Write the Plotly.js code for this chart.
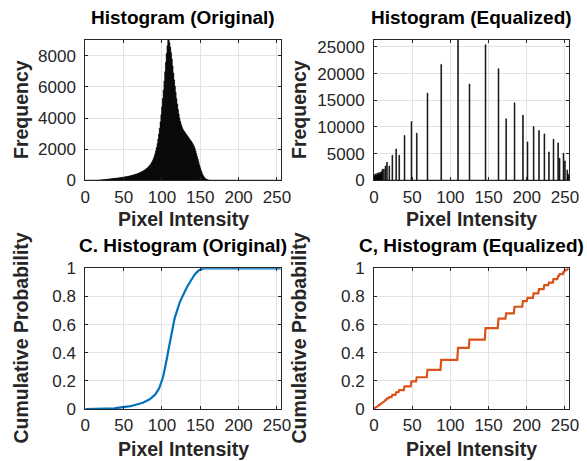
<!DOCTYPE html>
<html>
<head>
<meta charset="utf-8">
<script src="https://cdn.plot.ly/plotly-3.0.1.min.js"></script>
<style>html,body{margin:0;padding:0;background:#fff;}#chart{width:587px;height:461px;}</style>
</head>
<body>
<div id="chart"></div>
<script>
// Original image histogram, counts for intensities 0..255
const histOriginal = [
  0,0,0,0,0,1,1,1,2,2,
  3,4,5,6,8,10,12,14,17,20,
  24,28,32,36,41,46,52,58,64,70,
  76,82,88,94,100,106,112,118,124,130,
  136,142,148,154,160,167,174,181,189,197,
  205,214,223,232,242,252,262,273,284,296,
  308,321,334,348,362,377,393,410,428,447,
  467,488,510,534,559,586,615,646,680,717,
  757,800,847,898,955,1020,1095,1180,1280,1400,
  1540,1700,1890,2110,2360,2650,2980,3350,3760,4220,
  4720,5250,5800,6380,6980,7580,8150,
  8650,9000,9050,8850,8550,8200,
  7800,7350,6900,6450,6050,5650,5250,4900,4560,4260,4000,3780,3600,
  3450,3330,3230,3150,3080,3010,2940,2870,2800,2730,2660,2590,2520,2450,2370,
  2280,2170,2040,1880,1700,1520,1340,1160,980,810,650,510,390,290,210,150,105,70,45,28,
  17,10,6,4,3,2,2,1,1,1,
  0,0,0,0,0,0,0,0,0,0, 0,0,0,0,0,0,0,0,0,0,
  0,0,0,0,0,0,0,0,0,0, 0,0,0,0,0,0,0,0,0,0,
  0,0,0,0,0,0,0,0,0,0, 0,0,0,0,0,0,0,0,0,0,
  0,0,0,0,0,0,0,0,0,0, 0,0,0,0,0,0,0,0,0,0,
  0,0,0,0,0
];
// Equalized histogram: occupied intensity levels and their counts
const eqLevels = [0,1,2,3,4,5,6,7,8,9,10,11,13,15,17,20,24,29,33,40,49,56,70,88,110,125,146,163,173,184,195,201,209,216,223,229,235,241,243,248,250,253,254,255];
const eqCounts = [1100,800,1200,900,1300,1000,1400,1150,1500,1250,1650,2050,2120,2690,3380,2690,4700,5880,4700,8390,11020,8830,16350,21730,26400,18050,25430,20920,11520,14530,12220,7200,10080,9320,8700,5320,7700,7010,4130,5080,3630,1940,1200,900];

const xTicks = [0,50,100,150,200,250];
const titles = ['Histogram (Original)','Histogram (Equalized)','C. Histogram (Original)','C, Histogram (Equalized)'];
const xLabel = 'Pixel Intensity';
const yLabels = ['Frequency','Frequency','Cumulative Probability','Cumulative Probability'];

const intensities = histOriginal.map((_, i) => i);
const histEqualized = intensities.map(() => 0);
eqLevels.forEach((lv, i) => { histEqualized[lv] = eqCounts[i]; });

function cdf(h) {
  const total = h.reduce((a, b) => a + b, 0);
  let s = 0;
  return h.map(v => { s += v; return s / total; });
}
const cdfOriginal = cdf(histOriginal);
const cdfEqualized = cdf(histEqualized);

const W = 587, H = 461;
const px = v => v / W, py = v => 1 - v / H;

const data = [
  {type:'bar', x:intensities, y:histOriginal, xaxis:'x', yaxis:'y', width:1,
   marker:{color:'#000', line:{color:'#000', width:0.5}}, hoverinfo:'none'},
  {type:'bar', x:intensities, y:histEqualized, xaxis:'x2', yaxis:'y2', width:1,
   marker:{color:'#000', line:{color:'#000', width:0.6}}, hoverinfo:'none'},
  {type:'scatter', mode:'lines', x:intensities, y:cdfOriginal, xaxis:'x3', yaxis:'y3',
   line:{color:'#0072BD', width:2.2}, hoverinfo:'none'},
  {type:'scatter', mode:'lines', x:intensities, y:cdfEqualized, xaxis:'x4', yaxis:'y4',
   line:{color:'#D95319', width:2.2}, hoverinfo:'none'}
];

const tickFont = {family:'Liberation Sans, Arial, sans-serif', size:17, color:'#262626'};
function xa(dom, anchor) {
  return {domain:dom, anchor:anchor, range:[0,255], tickvals:xTicks, ticks:'inside', ticklen:3,
    tickcolor:'#262626', showline:true, linecolor:'#262626', linewidth:1, mirror:'ticks',
    showgrid:true, gridcolor:'#e3e3e3', gridwidth:1, zeroline:false, tickfont:tickFont,
    ticklabelstandoff:1, fixedrange:true};
}
function ya(dom, anchor, range, dtick) {
  return {domain:dom, anchor:anchor, range:range, dtick:dtick, ticks:'inside', ticklen:3,
    tickcolor:'#262626', showline:true, linecolor:'#262626', linewidth:1, mirror:'ticks',
    showgrid:true, gridcolor:'#e3e3e3', gridwidth:1, zeroline:false, tickfont:tickFont,
    ticklabelstandoff:5, fixedrange:true, tick0:0, tickformat:'~r', separatethousands:false};
}
const xL = [px(85.3), px(280.8)], xR = [px(374), px(568.8)];
const yT = [py(180.3), py(39.5)], yB = [py(409), py(268.3)];
const maxO = Math.max(...histOriginal), maxE = Math.max(...histEqualized);

const titleFont = {family:'Liberation Sans, Arial, sans-serif', size:19, color:'#000'};
const labFont = {family:'Liberation Sans, Arial, sans-serif', size:19.5, color:'#262626'};
const ann = [];
const cx = [183, 471.4], tY = [17, 246], xlY = [219, 449], ylX = [21, 299], ylY = [110, 338.6];
titles.forEach((t, i) => {
  const c = i % 2, r = Math.floor(i / 2);
  ann.push({text:'<b>' + t + '</b>', x:px(cx[c]), y:py(tY[r]), xref:'paper', yref:'paper',
    xanchor:'center', yanchor:'middle', showarrow:false, font:titleFont});
  ann.push({text:'<b>' + xLabel + '</b>', x:px(cx[c]), y:py(xlY[r]), xref:'paper', yref:'paper',
    xanchor:'center', yanchor:'middle', showarrow:false, font:labFont});
  ann.push({text:'<b>' + yLabels[i] + '</b>', x:px(ylX[c]), y:py(ylY[r]), xref:'paper', yref:'paper',
    xanchor:'center', yanchor:'middle', showarrow:false, textangle:-90, font:labFont});
});

const layout = {
  width:W, height:H, margin:{l:0, r:0, t:0, b:0}, paper_bgcolor:'#fff', plot_bgcolor:'#fff',
  showlegend:false, bargap:0,
  xaxis:xa(xL,'y'), yaxis:ya(yT,'x',[0,maxO],2000),
  xaxis2:xa(xR,'y2'), yaxis2:ya(yT,'x2',[0,maxE],5000),
  xaxis3:xa(xL,'y3'), yaxis3:ya(yB,'x3',[0,1],0.2),
  xaxis4:xa(xR,'y4'), yaxis4:ya(yB,'x4',[0,1],0.2),
  annotations:ann
};
Plotly.newPlot('chart', data, layout, {staticPlot:true, displayModeBar:false});
</script>
</body>
</html>
